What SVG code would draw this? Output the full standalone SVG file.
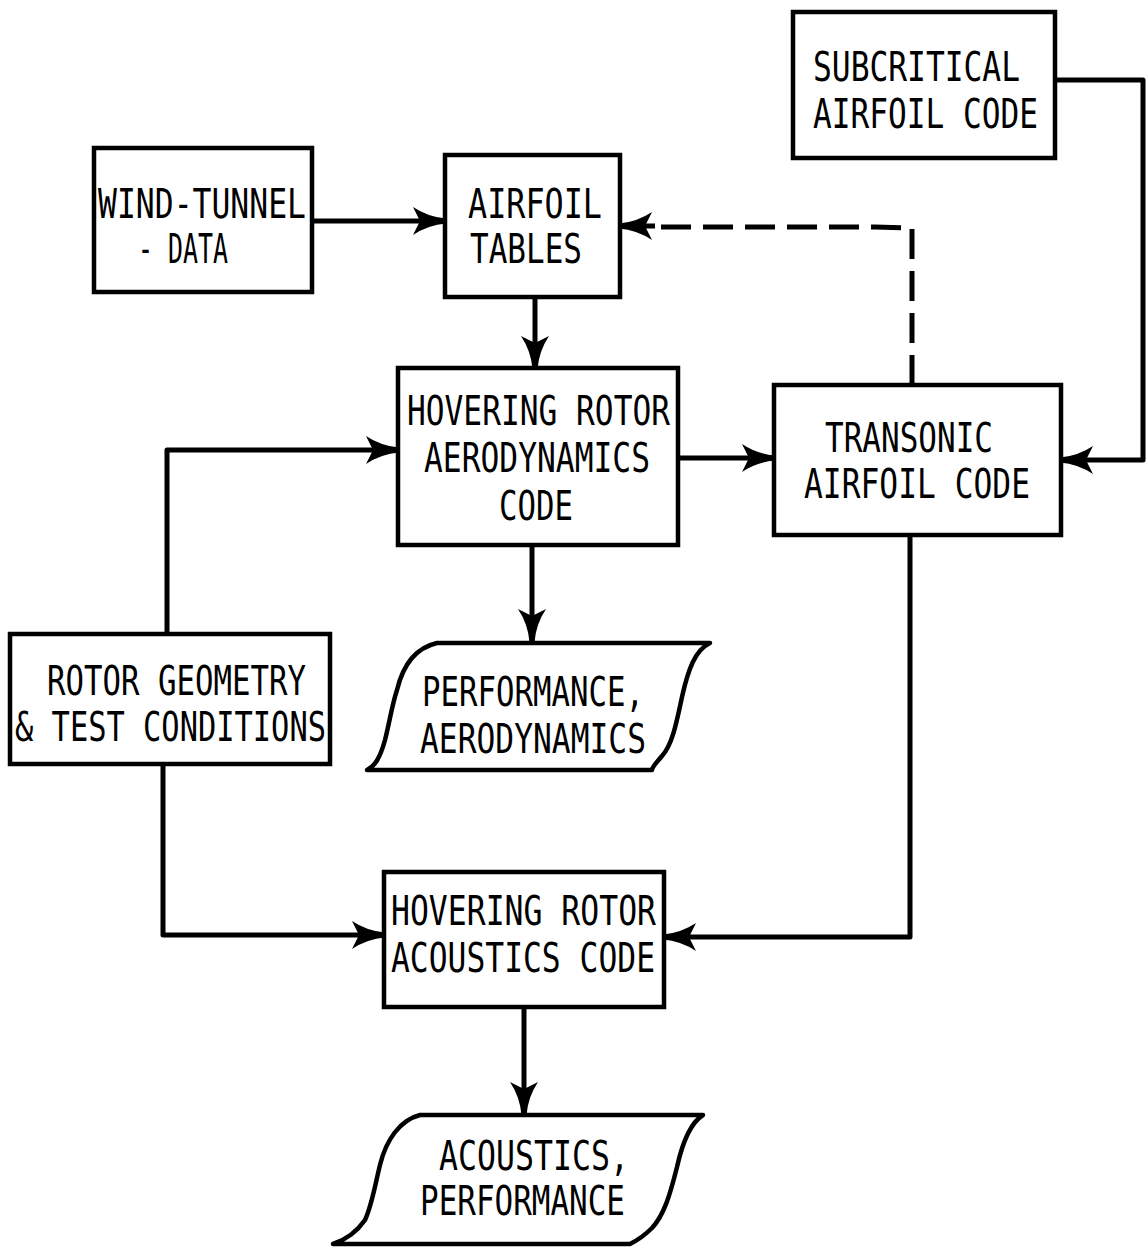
<svg xmlns="http://www.w3.org/2000/svg" width="1148" height="1256" viewBox="0 0 1148 1256">
<style>
.box{fill:#fff;stroke:#000;stroke-width:4.5}
.out{fill:#fff;stroke:#000;stroke-width:4.5;stroke-linejoin:round}
.t{font-family:'DejaVu Sans Mono','Liberation Mono',monospace;font-size:41px;fill:#000}
.c{fill:none;stroke:#000;stroke-width:5;stroke-linejoin:round}
.d{fill:none;stroke:#000;stroke-width:5;stroke-dasharray:30 12}
</style>
<defs>
<marker id="ah" markerUnits="userSpaceOnUse" viewBox="-34 -16 36 32" refX="0" refY="0" markerWidth="36" markerHeight="32" orient="auto">
<path d="M1,-2.5 Q-17,-4 -32,-14 L-25,0 L-32,14 Q-17,4 1,2.5 Z" fill="#000"/>
</marker>
</defs>
<rect width="1148" height="1256" fill="#fff"/>
<g id="connectors">
<path class="c" d="M312,221 H445" marker-end="url(#ah)"/>
<path class="c" d="M535,297 V368" marker-end="url(#ah)"/>
<path class="d" d="M912,385 V228 L875,227 H650"/>
<path class="c" d="M655,226 H620" marker-end="url(#ah)"/>
<path class="c" d="M1055,80 H1143 V460 H1061" marker-end="url(#ah)"/>
<path class="c" d="M678,458 H774" marker-end="url(#ah)"/>
<path class="c" d="M167,634 V450 H398" marker-end="url(#ah)"/>
<path class="c" d="M532,545 V641" marker-end="url(#ah)"/>
<path class="c" d="M163,764 V935 H384" marker-end="url(#ah)"/>
<path class="c" d="M910,535 V937 H664" marker-end="url(#ah)"/>
<path class="c" d="M524,1007 V1114" marker-end="url(#ah)"/>
</g>
<g id="subcritical">
<rect class="box" x="793" y="12" width="262" height="146"/>
<text class="t" x="813" y="81" textLength="207" lengthAdjust="spacingAndGlyphs">SUBCRITICAL</text>
<text class="t" x="813" y="128" textLength="225" lengthAdjust="spacingAndGlyphs">AIRFOIL CODE</text>
</g>
<g id="windtunnel">
<rect class="box" x="94" y="148" width="218" height="144"/>
<text class="t" x="98" y="218" textLength="208" lengthAdjust="spacingAndGlyphs">WIND-TUNNEL</text>
<text class="t" x="138" y="263" textLength="90" lengthAdjust="spacingAndGlyphs">- DATA</text>
</g>
<g id="airfoiltables">
<rect class="box" x="445" y="155" width="175" height="142"/>
<text class="t" x="468" y="218" textLength="134" lengthAdjust="spacingAndGlyphs">AIRFOIL</text>
<text class="t" x="470" y="263" textLength="112" lengthAdjust="spacingAndGlyphs">TABLES</text>
</g>
<g id="hoveraero">
<rect class="box" x="398" y="368" width="280" height="177"/>
<text class="t" x="407" y="425" textLength="263" lengthAdjust="spacingAndGlyphs">HOVERING ROTOR</text>
<text class="t" x="424" y="472" textLength="226" lengthAdjust="spacingAndGlyphs">AERODYNAMICS</text>
<text class="t" x="499" y="520" textLength="74" lengthAdjust="spacingAndGlyphs">CODE</text>
</g>
<g id="transonic">
<rect class="box" x="774" y="385" width="287" height="150"/>
<text class="t" x="825" y="452" textLength="168" lengthAdjust="spacingAndGlyphs">TRANSONIC</text>
<text class="t" x="804" y="498" textLength="226" lengthAdjust="spacingAndGlyphs">AIRFOIL CODE</text>
</g>
<g id="rotorgeometry">
<rect class="box" x="10" y="634" width="320" height="130"/>
<text class="t" x="47" y="695" textLength="259" lengthAdjust="spacingAndGlyphs">ROTOR GEOMETRY</text>
<text class="t" x="15" y="741" textLength="311" lengthAdjust="spacingAndGlyphs">&amp; TEST CONDITIONS</text>
</g>
<g id="performance">
<path class="out" d="M437,643 H710 C695,650 688,670 682,697 C676,725 672,745 662,756 C656,763 652,767 652,770 H367 C375,766 380,758 385,740 C390,720 392,705 397,690 C403,665 415,648 437,643 Z"/>
<text class="t" x="422" y="706" textLength="222" lengthAdjust="spacingAndGlyphs">PERFORMANCE,</text>
<text class="t" x="420" y="753" textLength="226" lengthAdjust="spacingAndGlyphs">AERODYNAMICS</text>
</g>
<g id="hoveracoustics">
<rect class="box" x="384" y="872" width="280" height="135"/>
<text class="t" x="391" y="925" textLength="265" lengthAdjust="spacingAndGlyphs">HOVERING ROTOR</text>
<text class="t" x="391" y="972" textLength="264" lengthAdjust="spacingAndGlyphs">ACOUSTICS CODE</text>
</g>
<g id="acousticsout">
<path class="out" d="M420,1115 H703 C692,1122 683,1140 677,1167 C670,1195 664,1215 652,1228 C644,1236 636,1241 630,1244 H333 C345,1240 356,1233 365,1220 C372,1205 375,1185 380,1165 C386,1140 400,1120 420,1115 Z"/>
<text class="t" x="439" y="1170" textLength="190" lengthAdjust="spacingAndGlyphs">ACOUSTICS,</text>
<text class="t" x="420" y="1215" textLength="205" lengthAdjust="spacingAndGlyphs">PERFORMANCE</text>
</g>
</svg>
